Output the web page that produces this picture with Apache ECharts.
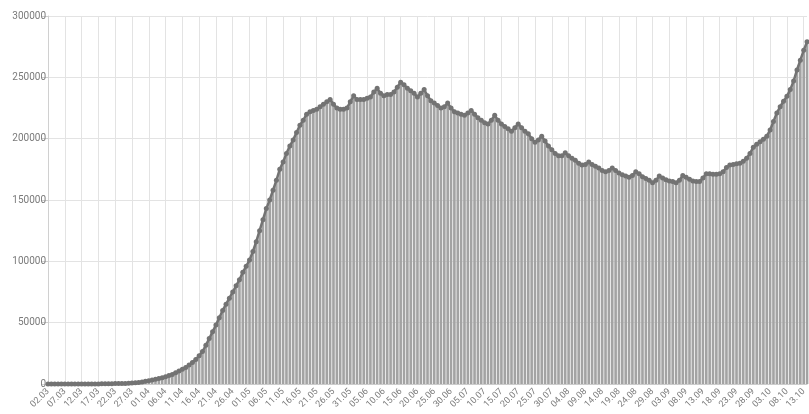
<!DOCTYPE html>
<html>
<head>
<meta charset="utf-8">
<script src="https://cdn.jsdelivr.net/npm/echarts@6/dist/echarts.min.js"></script>
<style>
html,body{margin:0;padding:0;background:#fff;}
#chart{width:809px;height:414px;}
</style>
</head>
<body>
<div id="chart"></div>
<script>
// Categories: daily dates from 02.03 to 14.10
const startDay = { day: 2, month: 3 };
const endDay = { day: 14, month: 10 };
const monthLengths = [31, 29, 31, 30, 31, 30, 31, 31, 30, 31, 30, 31];
const categories = [];
(function () {
  let d = startDay.day, m = startDay.month;
  while (true) {
    categories.push(String(d).padStart(2, '0') + '.' + String(m).padStart(2, '0'));
    if (d === endDay.day && m === endDay.month) break;
    d++;
    if (d > monthLengths[m - 1]) { d = 1; m++; }
  }
})();

// Values (per day)
const valuesMarch = [
  3, 3, 3, 4, 7, 10, 13, 13, 17, 20,
  28, 34, 45, 59, 63, 90, 114, 147, 199, 253,
  306, 367, 438, 495, 658, 840, 1036, 1264, 1534, 2337
];
const valuesApril = [
  2600, 3300, 3900, 4400, 5000, 5900, 6900, 7800, 9200, 10600,
  12000, 13500, 15500, 17500, 20000, 23000, 26500, 31500, 37000, 42500,
  48000, 54000, 60000, 65000, 70000, 75000, 80000, 85000, 91000, 96000
];
const valuesMay = [
  101000, 108000, 116000, 125000, 134000, 143000, 150000, 158000, 166000, 175000,
  181000, 188000, 194000, 199000, 205000, 211000, 215000, 220000, 222000, 223000,
  224000, 226000, 228000, 230000, 232000, 228000, 225000, 224000, 224000, 225000,
  230000
];
const valuesJune = [
  235000, 232000, 232000, 232000, 233000, 234000, 238000, 241000, 237000, 235000,
  236000, 236000, 238000, 242000, 246000, 244000, 241000, 239000, 237000, 234000,
  237000, 240000, 235000, 231000, 229000, 227000, 225000, 226000, 229000, 225000
];
const valuesJuly = [
  222000, 221000, 220000, 219000, 221000, 223000, 220000, 217000, 215000, 213000,
  212000, 215000, 219000, 215000, 212000, 210000, 208000, 206000, 209000, 212000,
  209000, 206000, 204000, 200000, 197000, 199000, 202000, 198000, 194000, 191000,
  188000
];
const valuesAugust = [
  186000, 186000, 188500, 186000, 184000, 182500, 180000, 178500, 179000, 181000,
  179000, 177500, 176000, 174000, 173000, 174000, 176000, 174000, 172000, 170500,
  169500, 168500, 170000, 173000, 171500, 169000, 167500, 166000, 164000, 166000,
  169500
];
const valuesSeptember = [
  168000, 166500, 165500, 165000, 164000, 166000, 170000, 168500, 167000, 165500,
  165000, 165000, 168000, 171500, 171500, 171000, 171000, 171500, 173000, 176500,
  178500, 179000, 179500, 180000, 181500, 184000, 188000, 193000, 195500, 197500
];
const valuesOctober = [
  199500, 202000, 207000, 214000, 221000, 226000, 230500, 234500, 240000, 247000,
  256000, 264000, 272000, 279000
];
const values = [].concat(valuesMarch, valuesApril, valuesMay, valuesJune,
  valuesJuly, valuesAugust, valuesSeptember, valuesOctober);

const yTicks = { min: 0, max: 300000, interval: 50000 };

const chart = echarts.init(document.getElementById('chart'), null, { renderer: 'canvas' });
chart.setOption({
  animation: false,
  backgroundColor: '#ffffff',
  grid: { left: 48, right: 1.5, top: 16, bottom: 30, containLabel: false },
  xAxis: {
    type: 'category',
    data: categories,
    boundaryGap: false,
    axisLine: { show: true, lineStyle: { color: '#cccccc' } },
    axisTick: { show: false },
    axisLabel: {
      interval: 4,
      rotate: 45,
      fontSize: 9,
      color: '#7a7a7a',
      fontFamily: 'Roboto',
      margin: 6
    },
    splitLine: { show: true, interval: 4, lineStyle: { color: '#e3e3e3', width: 1 } }
  },
  yAxis: {
    type: 'value',
    min: yTicks.min,
    max: yTicks.max,
    interval: yTicks.interval,
    axisLine: { show: true, lineStyle: { color: '#d0d0d0' } },
    axisTick: { show: true, length: 7, lineStyle: { color: '#cfcfcf' } },
    axisLabel: {
      fontSize: 10, color: '#7a7a7a', fontFamily: 'Roboto', margin: 2,
      formatter: function (v) { return String(v); }
    },
    splitLine: { show: true, lineStyle: { color: '#e3e3e3', width: 1 } }
  },
  series: [
    {
      type: 'bar',
      data: values,
      barCategoryGap: '22%',
      itemStyle: { color: '#a3a3a3' },
      z: 2
    },
    {
      type: 'line',
      data: values,
      symbol: 'circle',
      symbolSize: 5,
      showSymbol: true,
      showAllSymbol: true,
      lineStyle: { color: '#737373', width: 2.5 },
      itemStyle: { color: '#737373' },
      z: 3
    }
  ]
});
</script>
</body>
</html>
